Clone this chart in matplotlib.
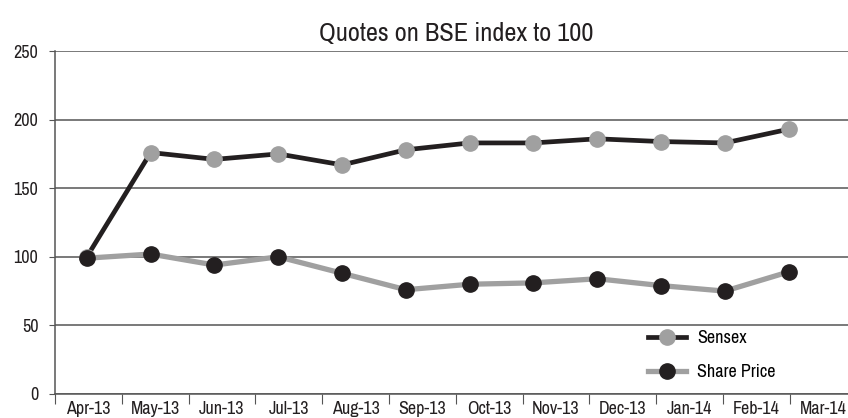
import numpy as np
import matplotlib.pyplot as plt
from matplotlib import font_manager as fm

# narrow sans like the original; take the first one that is installed
wanted = ['Liberation Sans Narrow', 'Arial Narrow', 'Archivo Narrow',
          'PT Sans Narrow', 'Roboto Condensed', 'Liberation Sans']
have = {f.name for f in fm.fontManager.ttflist}
font = [f for f in wanted if f in have][0]
plt.rcParams['font.family'] = [font, 'DejaVu Sans']

months = ['Apr-13', 'May-13', 'Jun-13', 'Jul-13', 'Aug-13', 'Sep-13',
          'Oct-13', 'Nov-13', 'Dec-13', 'Jan-14', 'Feb-14', 'Mar-14']
sensex = [100, 176, 171, 175, 167, 178, 183, 183, 186, 184, 183, 193]
share_price = [99, 102, 94, 100, 88, 76, 80, 81, 84, 79, 75, 89]

dark = '#231f20'
grey = '#a0a0a0'
axcol = '#555555'

fig = plt.figure(figsize=(8.48, 4.18), dpi=100)
ax = fig.add_axes([55/848, 24/418, 793/848, 343/418])

x = np.arange(len(months))
ax.plot(x, sensex, color=dark, lw=3.4, marker='o', ms=11,
        mfc=grey, mec=grey, label='Sensex', zorder=3)
ax.plot(x, share_price, color=grey, lw=3.8, marker='o', ms=11,
        mfc=dark, mec=dark, label='Share Price', zorder=4)

# category boundaries are a bit wider than the point spacing
step = 66.8 / 63.8
bounds = -0.5 + step * np.arange(len(months))
centers = bounds + step / 2
ax.set_xticks(bounds)
ax.set_xticklabels([])
ax.set_xticks(centers, minor=True)
ax.set_xticklabels(months, minor=True, fontsize=13, color='#231f20')
ax.tick_params(axis='x', which='major', length=7, color=axcol, direction='out')
ax.tick_params(axis='x', which='minor', length=0, pad=5)
ax.set_xlim(-0.5, 11.93)

ax.set_ylim(0, 250)
ax.set_yticks(range(0, 251, 50))
ax.tick_params(axis='y', length=4, color=axcol, labelsize=13,
               labelcolor='#231f20', pad=8)
ax.yaxis.grid(True, color=axcol, lw=1.1)
ax.set_axisbelow(True)

for s in ['top', 'right']:
    ax.spines[s].set_visible(False)
for s in ['left', 'bottom']:
    ax.spines[s].set_color(axcol)
    ax.spines[s].set_linewidth(1.1)

ax.legend(loc='upper left', bbox_to_anchor=(586/793, 0.208), frameon=False,
          fontsize=13, handlelength=2.1, handletextpad=0.6,
          labelspacing=1.0, borderaxespad=0)

fig.text(456/848, 1 - 33/418, 'Quotes on BSE index to 100', ha='center',
         va='center', fontsize=19, color='#231f20')

fig.savefig('out.png', dpi=100)
